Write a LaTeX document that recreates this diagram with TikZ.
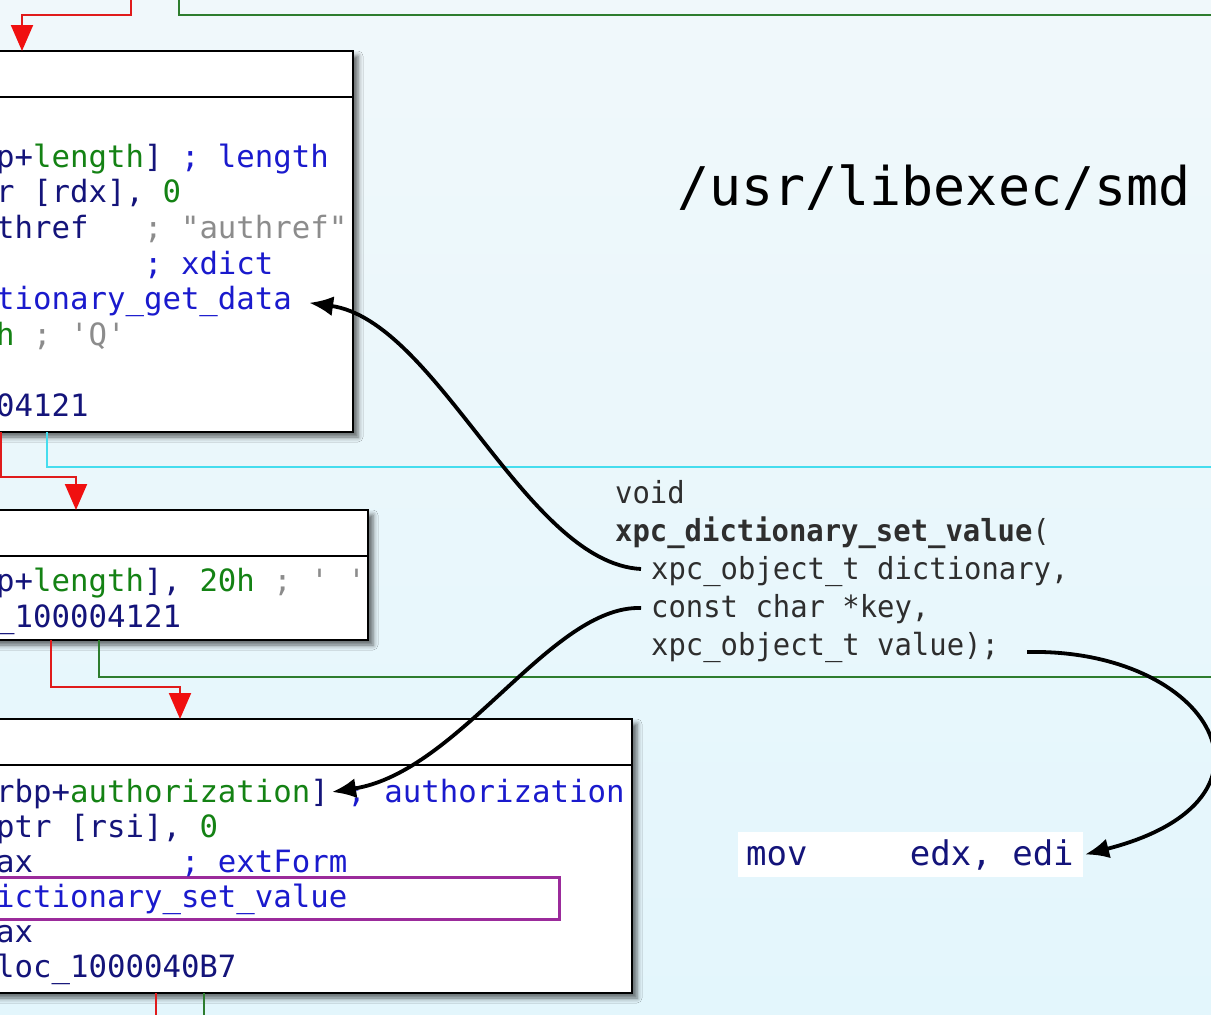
\documentclass[tikz,border=0pt]{standalone}
\usepackage{fontspec}
\usetikzlibrary{arrows.meta,shadows.blur,calc}
\newfontfamily\idafam{DejaVu Sans Mono}
\newfontfamily\sigfam[FakeStretch=0.95]{DejaVu Sans Mono}
\newcommand{\idafont}{\idafam\fontsize{30.7pt}{36pt}\selectfont}
\newcommand{\movfont}{\idafam\fontsize{34pt}{40pt}\selectfont}
\newcommand{\sigfont}{\sigfam\fontsize{30.4pt}{36pt}\selectfont}
\newcommand{\bigfont}{\idafam\fontsize{53.3pt}{60pt}\selectfont}
\definecolor{inav}{HTML}{14147A}
\definecolor{iblu}{HTML}{1A1ACD}
\definecolor{igrn}{HTML}{148214}
\definecolor{igry}{HTML}{8C8C8C}
\definecolor{lred}{HTML}{E01B1B}
\definecolor{ared}{HTML}{F01010}
\definecolor{lgrn}{HTML}{2E7D2E}
\definecolor{lcyn}{HTML}{45DDEE}
\definecolor{lpur}{HTML}{9B2B9B}
\definecolor{sigc}{HTML}{2E2E2E}
\definecolor{bgtop}{HTML}{F0F8FB}
\definecolor{bgbot}{HTML}{E3F6FC}
\newcommand{\tNav}[1]{\textcolor{inav}{#1}}
\newcommand{\tBlu}[1]{\textcolor{iblu}{#1}}
\newcommand{\tGrn}[1]{\textcolor{igrn}{#1}}
\newcommand{\tGry}[1]{\textcolor{igry}{#1}}
\newcommand{\sq}{\symbol{39}}
\newcommand{\dq}{\symbol{34}}
\tikzset{
  idabox/.style={draw=black, line width=2.7pt, fill=white, inner sep=0pt, outer sep=0pt,
    blur shadow={shadow xshift=5pt, shadow yshift=-5pt, shadow blur radius=5pt, shadow opacity=60}},
  hdr/.style={draw=black, line width=2.2pt},
  idatext/.style={font=\idafont, inner sep=0pt, anchor=base west},
  sigtext/.style={font=\sigfont, text=sigc, inner sep=0pt, anchor=base west},
  redl/.style={draw=lred, line width=2pt},
  redtip/.style={-{Triangle[length=26pt,width=22pt]}, draw=ared, fill=ared},
  greenl/.style={draw=lgrn, line width=2pt},
  cyanl/.style={draw=lcyn, line width=2pt},
  hlbox/.style={draw=lpur, line width=3pt, inner sep=0pt, outer sep=0pt},
  curvearrow/.style={draw=black, line width=3.8pt, -{Latex[length=24pt,width=20pt,fill=black]}},
}
\begin{document}
\begin{tikzpicture}[x=1pt,y=-1pt]
\useasboundingbox (0,0) rectangle (1211,1015);
\clip (0,0) rectangle (1211,1015);
\shade[top color=bgtop, bottom color=bgbot] (0,0) rectangle (1211,1015);

% boxes
\node[idabox, minimum width=373pt, minimum height=381pt, anchor=north west] (b1) at (-20,51) {};
\draw[hdr] ($(b1.north west)+(0,46)$) -- ($(b1.north east)+(0,46)$);
\node[idabox, minimum width=388pt, minimum height=130pt, anchor=north west] (b2) at (-20,510) {};
\draw[hdr] ($(b2.north west)+(0,46)$) -- ($(b2.north east)+(0,46)$);
\node[idabox, minimum width=652pt, minimum height=274pt, anchor=north west] (b3) at (-20,719) {};
\draw[hdr] ($(b3.north west)+(0,46)$) -- ($(b3.north east)+(0,46)$);

% box 1 text
\node[idatext] (b1t0) at (-4,167) {\tNav{p+}\tGrn{length}\tNav{]}\tBlu{~;~length}};
\node[idatext] (b1t1) at (-4,202.7) {\tNav{r~[rdx],~}\tGrn{0}};
\node[idatext] (b1t2) at (-4,238.4) {\tNav{thref}\tGry{~~~;~\dq authref\dq}};
\node[idatext] (b1t3) at (-4,274.1) {\tBlu{~~~~~~~~;~xdict}};
\node[idatext] (b1t4) at (-4,309.8) {\tBlu{tionary\_get\_data}};
\node[idatext] (b1t5) at (-4,345.5) {\tGrn{h}\tGry{~;~\sq Q\sq}};
\node[idatext] (b1t7) at (-4,416.9) {\tNav{04121}};

% box 2 text
\node[idatext] (b2t0) at (-4,591) {\tNav{p+}\tGrn{length}\tNav{],~}\tGrn{20h}\tGry{~;~\sq~\sq}};
\node[idatext] (b2t1) at (-4,627) {\tNav{\_100004121}};

% box 3 text
\node[hlbox, minimum width=569pt, minimum height=42pt, anchor=north west] (hl) at (-10,877) {};
\node[idatext] (b3t0) at (-4,802) {\tNav{rbp+}\tGrn{authorization}\tNav{]}\tBlu{~;~authorization}};
\node[idatext] (b3t1) at (-4,837) {\tNav{ptr~[rsi],~}\tGrn{0}};
\node[idatext] (b3t2) at (-4,872) {\tNav{ax}\tBlu{~~~~~~~~;~extForm}};
\node[idatext] (b3t3) at (-4,907) {\tBlu{ictionary\_set\_value}};
\node[idatext] (b3t4) at (-4,942) {\tNav{ax}};
\node[idatext] (b3t5) at (-4,977) {\tNav{loc\_1000040B7}};

% title
\node[font=\bigfont, text=black, inner sep=0pt, anchor=base west] (title) at (677,205) {/usr/libexec/smd};

% signature
\node[sigtext] (sig0) at (615,503) {void};
\node[sigtext] (sig1) at (615,541) {\textbf{xpc\_dictionary\_set\_value}(};
\node[sigtext] (sig2) at (651,579) {xpc\_object\_t dictionary,};
\node[sigtext] (sig3) at (651,617) {const char *key,};
\node[sigtext] (sig4) at (651,655) {xpc\_object\_t value);};

% mov snippet
\node[fill=white, minimum width=345pt, minimum height=45pt, inner sep=0pt, outer sep=0pt, anchor=north west] (movbox) at (738,832) {};
\node[font=\movfont, text=inav, inner sep=0pt, anchor=base west] (movt) at (746,865) {mov~~~~~edx,~edi};

% flow lines
\coordinate (t1) at (131,0);
\coordinate (t2) at (179,0);
\coordinate (gE1) at (1211,15);
\coordinate (cE) at (1211,467);
\coordinate (gE2) at (1211,677);
\coordinate (rB) at (156,1015);
\coordinate (gB) at (204,1015);
\draw[redl] (t1) -- ++(0,15) -| ($(b1.north west)+(42,-20)$);
\draw[greenl] (t2) -- ++(0,15) -- (gE1);
\draw[redl] ($(b1.south west)+(21,0)$) -- ++(0,45) -| ($(b2.north west)+(96,-20)$);
\draw[cyanl] ($(b1.south west)+(67,0)$) -- ++(0,35) -- (cE);
\draw[redl] ($(b2.south west)+(71,0)$) -- ++(0,47) -| ($(b3.north west)+(200,-20)$);
\draw[greenl] ($(b2.south west)+(119,0)$) -- ++(0,37) -- (gE2);
\draw[redl] ($(b3.south west)+(176,0)$) -- (rB);
\draw[greenl] ($(b3.south west)+(224,0)$) -- (gB);
% red arrow heads
\draw[redl, redtip] ($(b1.north west)+(42,-26)$) -- ($(b1.north west)+(42,0)$);
\draw[redl, redtip] ($(b2.north west)+(96,-26)$) -- ($(b2.north west)+(96,0)$);
\draw[redl, redtip] ($(b3.north west)+(200,-26)$) -- ($(b3.north west)+(200,0)$);

% annotation arrows
\coordinate (a1s) at ($(sig2.base west)+(-10,-10)$);
\coordinate (a1e) at ($(b1t4.base east)+(17,-7)$);
\draw[curvearrow] (a1s) .. controls ($(a1s)+(-115,-6)$) and ($(a1e)+(128,18)$) .. (a1e);
\coordinate (a2s) at ($(sig3.base west)+(-10,-9)$);
\coordinate (a2e) at ($(b3t0.base west)+(336,-10)$);
\draw[curvearrow] (a2s) .. controls ($(a2s)+(-90,-3)$) and ($(a2e)+(128,-20)$) .. (a2e);
\coordinate (a3s) at ($(sig4.base east)+(28,-3)$);
\coordinate (a3e) at ($(movbox.east)+(2,0)$);
\draw[curvearrow] (a3s) .. controls ($(a3s)+(183,-4)$) and ($(a3e)+(215,-55)$) .. (a3e);
\end{tikzpicture}
\end{document}
